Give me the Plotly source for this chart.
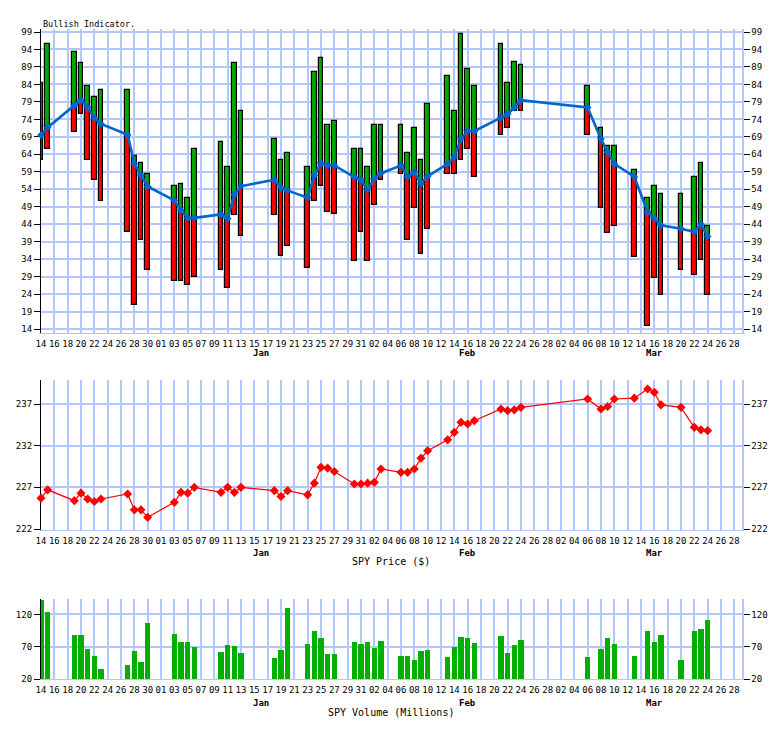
import plotly.graph_objects as go

# ---------------- data ----------------
dates = [
    "2016-12-14", "2016-12-15", "2016-12-19", "2016-12-20", "2016-12-21", "2016-12-22", "2016-12-23",
    "2016-12-27", "2016-12-28", "2016-12-29", "2016-12-30",
    "2017-01-03", "2017-01-04", "2017-01-05", "2017-01-06", "2017-01-10", "2017-01-11", "2017-01-12",
    "2017-01-13", "2017-01-18", "2017-01-19", "2017-01-20", "2017-01-23", "2017-01-24", "2017-01-25",
    "2017-01-26", "2017-01-27", "2017-01-30", "2017-01-31",
    "2017-02-01", "2017-02-02", "2017-02-03", "2017-02-06", "2017-02-07", "2017-02-08", "2017-02-09",
    "2017-02-10", "2017-02-13", "2017-02-14", "2017-02-15", "2017-02-16", "2017-02-17", "2017-02-21",
    "2017-02-22", "2017-02-23", "2017-02-24",
    "2017-03-06", "2017-03-08", "2017-03-09", "2017-03-10", "2017-03-13", "2017-03-15", "2017-03-16",
    "2017-03-17", "2017-03-20", "2017-03-22", "2017-03-23", "2017-03-24",
]

bull_low = [
    62.4, 65.5, 70.3, 75.5, 62.4, 56.7, 50.7,
    41.7, 20.8, 39.6, 30.8,
    27.6, 27.6, 26.7, 28.8, 30.8, 25.6, 46.7,
    40.7, 46.7, 34.8, 37.7, 31.6, 50.7, 54.8,
    47.5, 46.8, 33.6, 41.7,
    33.6, 49.6, 56.7, 58.4, 39.6, 48.7, 35.6,
    42.7, 58.4, 58.4, 62.4, 65.5, 57.6, 69.5,
    71.5, 76.5, 76.5,
    69.5, 48.6, 41.6, 43.6, 34.6, 14.9, 28.7,
    23.6, 30.8, 29.6, 33.7, 23.6,
]

bull_high = [
    84.4, 95.5, 93.3, 90.2, 83.5, 80.4, 82.4,
    82.4, 63.5, 61.4, 58.4,
    54.8, 55.6, 51.6, 65.5, 67.6, 60.5, 90.2,
    76.5, 68.4, 62.4, 64.4, 60.5, 87.5, 91.5,
    72.4, 73.5, 65.5, 65.5,
    60.5, 72.4, 72.4, 72.4, 64.4, 71.5, 62.4,
    78.4, 86.4, 76.5, 98.3, 88.4, 83.5, 95.5,
    84.4, 90.3, 89.5,
    83.5, 71.5, 66.4, 66.4, 59.5, 51.6, 54.8,
    52.7, 52.7, 57.6, 61.4, 43.6,
]

bull_line = [
    69.5, 71.7, 78.0, 79.5, 77.4, 74.4, 72.7,
    69.6, 61.3, 58.0, 54.8,
    50.8, 48.0, 45.8, 45.8, 46.8, 45.6, 52.5,
    54.9, 56.7, 54.4, 53.6, 51.6, 57.9, 61.4,
    60.8, 60.8, 57.5, 56.7,
    53.8, 57.0, 58.6, 60.8, 57.6, 58.9, 55.6,
    57.7, 61.3, 63.2, 68.4, 70.6, 70.6, 74.6,
    75.5, 77.4, 79.5,
    77.4, 68.4, 64.6, 61.3, 57.6, 47.5, 45.6,
    43.7, 42.7, 41.8, 44.0, 40.5,
]

spy_price = [
    225.7, 226.7, 225.4, 226.3, 225.6, 225.3, 225.6,
    226.2, 224.3, 224.3, 223.4,
    225.2, 226.4, 226.3, 227.0, 226.4, 227.0, 226.4,
    227.0, 226.6, 225.9, 226.6, 226.1, 227.5, 229.4,
    229.3, 228.9, 227.4, 227.4,
    227.5, 227.6, 229.2, 228.8, 228.8, 229.2, 230.5,
    231.4, 232.7, 233.6, 234.8, 234.6, 235.0, 236.4,
    236.2, 236.3, 236.6,
    237.6, 236.4, 236.7, 237.6, 237.7, 238.8, 238.4,
    236.9, 236.6, 234.2, 233.9, 233.8,
]

spy_volume = [
    141.9, 123.6, 88.8, 88.8, 66.9, 55.9, 35.6,
    41.9, 63.8, 46.6, 107.5,
    90.3, 77.8, 77.8, 70.0, 62.2, 73.1, 71.6,
    60.6, 52.8, 65.3, 129.4, 74.7, 95.0, 84.0,
    59.0, 59.0, 77.8, 74.7,
    77.8, 68.4, 79.4, 55.9, 55.9, 49.7, 63.8,
    65.3, 54.4, 70.0, 85.6, 84.0, 76.3, 87.2,
    60.6, 73.1, 80.9,
    54.4, 66.9, 84.0, 74.7, 55.9, 95.0, 77.8,
    88.8, 49.7, 95.0, 98.1, 112.2,
]

bull_ticks = [14, 19, 24, 29, 34, 39, 44, 49, 54, 59, 64, 69, 74, 79, 84, 89, 94, 99]
price_ticks = [222, 227, 232, 237]
volume_ticks = [20, 70, 120]
month_labels = ["Jan", "Feb", "Mar"]
month_label_dates = ["2017-01-16", "2017-02-16", "2017-03-16"]

# ---------------- styling ----------------
W, H = 784, 729
OFF = 8  # page body margin in the browser
FONT = "DejaVu Sans Mono"
GRID = "#B0C8FF"
GREEN_BAR = "#00A800"
GREEN_VOL = "#00B000"
RED = "#FF0000"
BLUE = "#0066CC"
DAY = 86400000
X_RANGE = ["2016-12-14 00:00", "2017-03-29 02:40"]
X_LEFT, X_RIGHT = 41, 741.7   # screen pixels


def xf(p):
    return (p - OFF) / W


def yf(p):
    return 1 - (p - OFF) / H


def ydom(top_px, bottom_px):
    return [yf(bottom_px), yf(top_px)]


red_len = [ln - lo for lo, ln in zip(bull_low, bull_line)]
green_len = [hi - ln for hi, ln in zip(bull_high, bull_line)]
vol_base = volume_ticks[0]
vol_len = [v - vol_base for v in spy_volume]

fig = go.Figure()

# Bullish indicator panel
fig.add_trace(go.Bar(
    x=dates, y=red_len, base=bull_low, width=0.72 * DAY,
    marker=dict(color=RED, line=dict(color="black", width=1.2)),
    xaxis="x", yaxis="y", cliponaxis=False, showlegend=False, hoverinfo="skip"))
fig.add_trace(go.Bar(
    x=dates, y=green_len, base=bull_line, width=0.72 * DAY,
    marker=dict(color=GREEN_BAR, line=dict(color="black", width=1.2)),
    xaxis="x", yaxis="y", cliponaxis=False, showlegend=False, hoverinfo="skip"))
fig.add_trace(go.Scatter(
    x=dates, y=bull_line, mode="lines+markers",
    line=dict(color=BLUE, width=2.6),
    marker=dict(color=BLUE, size=6, symbol="diamond"),
    xaxis="x", yaxis="y", cliponaxis=False, showlegend=False))

# SPY price panel
fig.add_trace(go.Scatter(
    x=dates, y=spy_price, mode="lines+markers",
    line=dict(color=RED, width=1.2),
    marker=dict(color=RED, size=7, symbol="diamond"),
    xaxis="x2", yaxis="y2", cliponaxis=False, showlegend=False))

# SPY volume panel
fig.add_trace(go.Bar(
    x=dates, y=vol_len, base=vol_base, width=0.8 * DAY,
    marker=dict(color=GREEN_VOL, line=dict(width=0)),
    xaxis="x3", yaxis="y3", cliponaxis=False, showlegend=False, hoverinfo="skip"))

# invisible companions so the right-hand (mirrored) value axes get drawn
for xa, ya, vals in [("x", "y4", bull_line), ("x2", "y5", spy_price), ("x3", "y6", spy_volume)]:
    fig.add_trace(go.Scatter(
        x=dates, y=vals, mode="lines", line=dict(width=0, color="rgba(0,0,0,0)"),
        xaxis=xa, yaxis=ya, showlegend=False, hoverinfo="skip"))

tickfont = dict(family=FONT, size=9, color="black")

xcommon = dict(
    type="date", range=X_RANGE, domain=[xf(X_LEFT), xf(X_RIGHT)],
    tick0="2016-12-14", dtick=2 * DAY, tickformat="%d",
    showgrid=True, gridcolor=GRID, gridwidth=1.6,
    showline=True, linecolor=GRID, linewidth=1,
    ticks="", tickfont=tickfont, zeroline=False, ticklabelstandoff=2,
    automargin=False, layer="below traces",
)

ycommon = dict(
    showgrid=True, gridcolor=GRID, gridwidth=1.6, zeroline=False,
    showline=True, linecolor="black", linewidth=1.2,
    ticks="outside", ticklen=6, tickcolor="black", tickwidth=1,
    tickfont=tickfont, automargin=False, layer="below traces",
)

panels = [
    ("", 29, 333, [12.86, 99.86], bull_ticks),
    ("2", 380, 530, [221.88, 239.88], price_ticks),
    ("3", 599, 679, [20, 144], volume_ticks),
]

layout_axes = {}
for i, (s, top, bot, rng, tv) in enumerate(panels):
    layout_axes["xaxis" + s] = dict(xcommon, anchor="y" + s)
    layout_axes["yaxis" + s] = dict(ycommon, domain=ydom(top, bot), range=rng,
                                    tickvals=tv, anchor="x" + s)
    rs = str(4 + i)
    layout_axes["yaxis" + rs] = dict(
        overlaying="y" + s, side="right", range=rng, tickvals=tv, anchor="x" + s,
        showgrid=False, zeroline=False, showline=True, linecolor=GRID, linewidth=1.6,
        ticks="outside", ticklen=6, tickcolor="black", tickwidth=1, tickfont=tickfont,
        automargin=False, layer="below traces")

annotations = [
    dict(text="Bullish Indicator.", x=xf(X_LEFT), y=yf(24), xref="paper", yref="paper",
         xanchor="left", yanchor="middle", showarrow=False,
         font=dict(family=FONT, size=8.5, color="black")),
    dict(text="SPY Price ($)", x=xf((X_LEFT + X_RIGHT) / 2), y=yf(561),
         xref="paper", yref="paper", xanchor="center", yanchor="middle", showarrow=False,
         font=dict(family=FONT, size=10, color="black")),
    dict(text="SPY Volume (Millions)", x=xf((X_LEFT + X_RIGHT) / 2), y=yf(712),
         xref="paper", yref="paper", xanchor="center", yanchor="middle", showarrow=False,
         font=dict(family=FONT, size=10, color="black")),
]
for s, ypx in [("", 353), ("2", 553), ("3", 703)]:
    for lab, d in zip(month_labels, month_label_dates):
        annotations.append(dict(
            text="<b>" + lab + "</b>", x=d, xref="x" + s, y=yf(ypx), yref="paper",
            xanchor="center", yanchor="middle", showarrow=False,
            font=dict(family=FONT, size=9, color="black")))

fig.update_layout(
    width=W, height=H, margin=dict(l=0, r=0, t=0, b=0, autoexpand=False),
    paper_bgcolor="white", plot_bgcolor="white",
    barmode="overlay", bargap=0, showlegend=False,
    annotations=annotations, **layout_axes,
)

fig.write_html("out.html")
